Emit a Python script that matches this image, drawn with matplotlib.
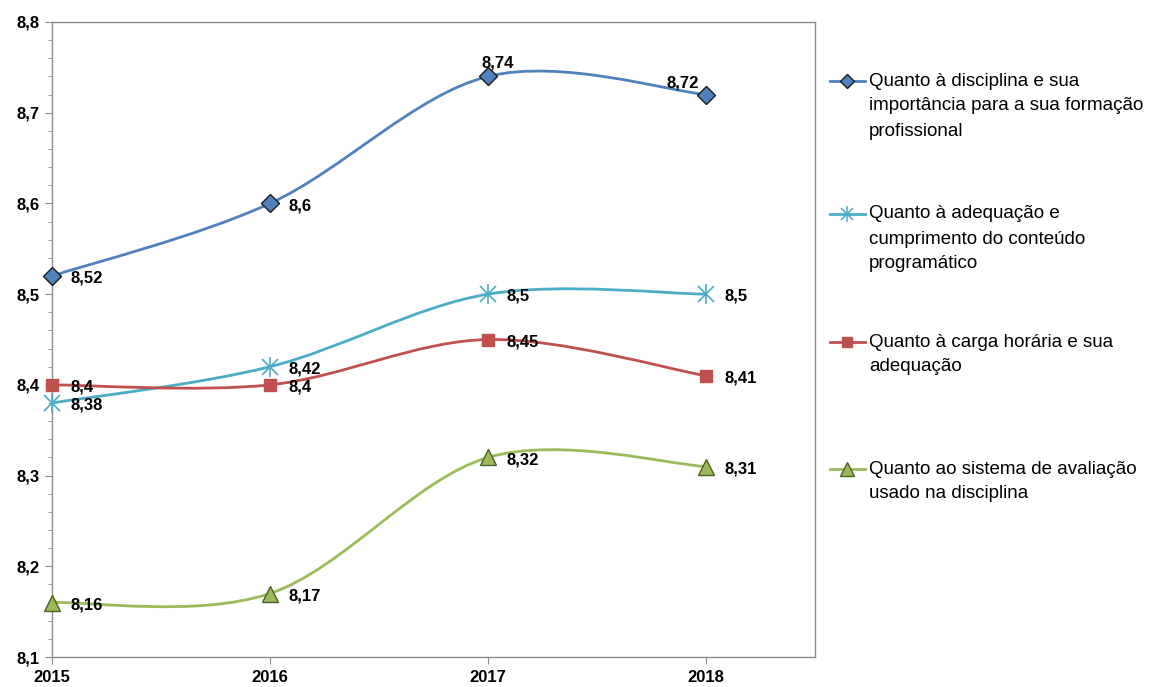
import matplotlib
matplotlib.use("Agg")
import matplotlib.pyplot as plt
import numpy as np
from matplotlib.path import Path
from matplotlib.patches import PathPatch
from matplotlib.lines import Line2D
from matplotlib.ticker import FixedLocator, MultipleLocator, FuncFormatter

plt.rcParams["font.family"] = ["Liberation Sans", "DejaVu Sans"]

years = [2015, 2016, 2017, 2018]
disciplina = [8.52, 8.60, 8.74, 8.72]
conteudo = [8.38, 8.42, 8.50, 8.50]
carga = [8.40, 8.40, 8.45, 8.41]
avaliacao = [8.16, 8.17, 8.32, 8.31]

labels = [
    "Quanto à disciplina e sua\nimportância para a sua formação\nprofissional",
    "Quanto à adequação e\ncumprimento do conteúdo\nprogramático",
    "Quanto à carga horária e sua\nadequação",
    "Quanto ao sistema de avaliação\nusado na disciplina",
]


def smooth_path(xs, ys):
    # Excel-style smoothed line: cubic Bezier through every point
    pts = np.column_stack([xs, ys]).astype(float)
    n = len(pts)
    verts, codes = [pts[0]], [Path.MOVETO]
    for i in range(n - 1):
        p0, p1 = pts[max(i - 1, 0)], pts[i]
        p2, p3 = pts[i + 1], pts[min(i + 2, n - 1)]
        verts += [p1 + (p2 - p0) / 6, p2 - (p3 - p1) / 6, p2]
        codes += [Path.CURVE4] * 3
    return Path(verts, codes)


def fmt(v):
    return f"{v:g}".replace(".", ",")


fig = plt.figure(figsize=(11.73, 6.87), dpi=100)
ax = fig.add_axes([52 / 1173, 30 / 687, 763 / 1173, 635 / 687])

series = [
    (disciplina, "#4F81BD", dict(marker="D", ms=9, mfc="#4F81BD", mec="#1a1a1a", mew=1.0)),
    (conteudo, "#4BACC6", None),
    (carga, "#C0504D", dict(marker="s", ms=9, mfc="#C0504D", mec="#C0504D", mew=1.0)),
    (avaliacao, "#9BBB59", dict(marker="^", ms=12, mfc="#9BBB59", mec="#4E6128", mew=1.0)),
]

for vals, color, mk in series:
    ax.add_patch(PathPatch(smooth_path(years, vals), fc="none", ec=color, lw=2.0, zorder=2))
    if mk is None:
        ax.plot(years, vals, ls="none", marker="x", ms=11, mec=color, mew=1.2, zorder=3,
                clip_on=False)
        ax.plot(years, vals, ls="none", marker="|", ms=15, mec=color, mew=1.2, zorder=3,
                clip_on=False)
    else:
        ax.plot(years, vals, ls="none", zorder=3, clip_on=False, **mk)

# data labels (offsets in points)
default_off = (13, -1.5)
special = {(0, 2): ((7, 10), "center"), (0, 3): ((-17, 8.6), "center")}
for si, (vals, _, _) in enumerate(series):
    for j, (x, v) in enumerate(zip(years, vals)):
        off, ha = special.get((si, j), (default_off, "left"))
        ax.annotate(fmt(v), (x, v), xytext=off, textcoords="offset points",
                    ha=ha, va="center", fontsize=12, fontweight="bold", zorder=4)

ax.set_xlim(2015, 2018.5)
ax.set_ylim(8.1, 8.8)
ax.xaxis.set_major_locator(FixedLocator(years))
ax.xaxis.set_major_formatter(FuncFormatter(lambda v, p: f"{int(v)}"))
ax.yaxis.set_major_locator(MultipleLocator(0.1))
ax.yaxis.set_minor_locator(MultipleLocator(0.02))
ax.yaxis.set_major_formatter(FuncFormatter(lambda v, p: f"{v:.1f}".replace(".", ",")))
for s in ax.spines.values():
    s.set_color("#8c8c8c")
    s.set_linewidth(1.0)
ax.tick_params(axis="both", which="major", direction="out", length=5, color="#8c8c8c",
               labelsize=12, pad=4)
ax.tick_params(axis="y", which="minor", direction="out", length=3, color="#8c8c8c")
for t in ax.get_xticklabels() + ax.get_yticklabels():
    t.set_fontweight("bold")

# legend drawn by hand to match the spacing of the original
legend_rows = [81, 214, 342, 469]
line_gap = 25
handles = [
    dict(marker="D", ms=7, mfc="#4F81BD", mec="#1a1a1a", mew=1.0),
    None,
    dict(marker="s", ms=7, mfc="#C0504D", mec="#C0504D"),
    dict(marker="^", ms=9.5, mfc="#9BBB59", mec="#4E6128", mew=1.0),
]
W, H = 1173, 687
for (vals, color, _), mk, lab, ry in zip(series, handles, labels, legend_rows):
    fy = 1 - ry / H
    fig.add_artist(Line2D([830 / W, 865 / W], [fy, fy], color=color, lw=2.0,
                          transform=fig.transFigure))
    if mk is None:
        fig.add_artist(Line2D([847 / W], [fy], ls="none", marker="x", ms=8, mec=color,
                              mew=1.1, transform=fig.transFigure))
        fig.add_artist(Line2D([847 / W], [fy], ls="none", marker="|", ms=11, mec=color,
                              mew=1.1, transform=fig.transFigure))
    else:
        fig.add_artist(Line2D([847 / W], [fy], ls="none", transform=fig.transFigure, **mk))
    for k, line in enumerate(lab.split("\n")):
        fig.text(869 / W, 1 - (ry + k * line_gap) / H, line, fontsize=13.5,
                 ha="left", va="center")

fig.savefig("out.png", dpi=100)
